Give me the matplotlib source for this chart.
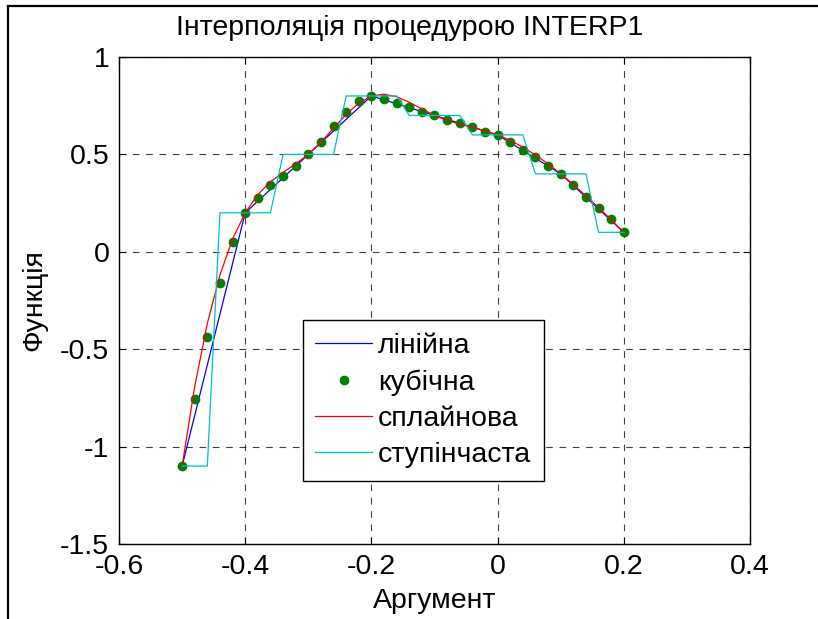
import matplotlib
matplotlib.use('Agg')
import matplotlib.pyplot as plt
from matplotlib.lines import Line2D

plt.rcParams['font.family'] = ['Liberation Sans', 'DejaVu Sans']

# knots of the source data
x_knots = [-0.5, -0.4, -0.3, -0.2, -0.1, 0.0, 0.1, 0.2]
y_linear = [-1.1, 0.2, 0.5, 0.8, 0.7, 0.6, 0.4, 0.1]

# fine argument grid
x_fine = [-0.50, -0.48, -0.46, -0.44, -0.42, -0.40, -0.38, -0.36, -0.34,
          -0.32, -0.30, -0.28, -0.26, -0.24, -0.22, -0.20, -0.18, -0.16,
          -0.14, -0.12, -0.10, -0.08, -0.06, -0.04, -0.02, 0.00, 0.02,
          0.04, 0.06, 0.08, 0.10, 0.12, 0.14, 0.16, 0.18, 0.20]

# values
y_cubic = [-1.10, -0.757, -0.436, -0.159, 0.052, 0.200, 0.276, 0.343, 0.389,
           0.440, 0.500, 0.565, 0.646, 0.720, 0.775, 0.800, 0.784, 0.764,
           0.742, 0.718, 0.700, 0.675, 0.660, 0.639, 0.617, 0.600, 0.562,
           0.524, 0.485, 0.440, 0.400, 0.344, 0.283, 0.225, 0.167, 0.100]

y_spline = [-1.10, -0.691, -0.368, -0.119, 0.066, 0.200, 0.294, 0.359, 0.408,
            0.451, 0.500, 0.563, 0.635, 0.705, 0.763, 0.800, 0.809, 0.796,
            0.768, 0.733, 0.700, 0.675, 0.655, 0.639, 0.621, 0.600, 0.572,
            0.537, 0.497, 0.451, 0.400, 0.345, 0.287, 0.227, 0.164, 0.100]

y_nearest = [-1.1, -1.1, -1.1, 0.2, 0.2, 0.2, 0.2, 0.2, 0.5,
             0.5, 0.5, 0.5, 0.5, 0.8, 0.8, 0.8, 0.8, 0.8,
             0.7, 0.7, 0.7, 0.7, 0.7, 0.6, 0.6, 0.6, 0.6,
             0.6, 0.4, 0.4, 0.4, 0.4, 0.4, 0.1, 0.1, 0.1]

labels = ['лінійна', 'кубічна', 'сплайнова', 'ступінчаста']
x_ticks = [-0.6, -0.4, -0.2, 0, 0.2, 0.4]
x_ticklabels = ['-0.6', '-0.4', '-0.2', '0', '0.2', '0.4']
y_ticks = [-1.5, -1, -0.5, 0, 0.5, 1]
y_ticklabels = ['-1.5', '-1', '-0.5', '0', '0.5', '1']

W, H = 818, 619
fig = plt.figure(figsize=(W / 100, H / 100), dpi=100)
ax = fig.add_axes([119 / W, 1 - 544 / H, (750 - 119) / W, (544 - 57) / H])

fs = 20.5
ax.plot(x_knots, y_linear, color='#0000FF', lw=0.9, label=labels[0])
ax.plot(x_fine, y_cubic, linestyle='none', marker='o', markersize=6,
        color='#008000', label=labels[1])
ax.plot(x_fine, y_spline, color='#FF0000', lw=0.9, label=labels[2])
ax.plot(x_fine, y_nearest, color='#00BFBF', lw=0.9, label=labels[3])

ax.set_xlim(-0.6, 0.4)
ax.set_ylim(-1.5, 1)
ax.set_xticks(x_ticks)
ax.set_xticklabels(x_ticklabels)
ax.set_yticks(y_ticks)
ax.set_yticklabels(y_ticklabels)
ax.tick_params(direction='in', length=5, width=0.8, top=True, right=True,
               labelsize=fs, colors='black')
ax.tick_params(axis='y', pad=7)
ax.tick_params(axis='x', pad=7)
ax.grid(True, color='black', linestyle=(0, (6, 6)), linewidth=0.8, alpha=0.75)
for s in ax.spines.values():
    s.set_linewidth(1.0)
    s.set_color('black')

ax.set_xlabel('Аргумент', fontsize=fs, labelpad=6)
ax.set_ylabel('Функція', fontsize=fs, labelpad=9)
fig.text(410 / W, 1 - 28 / H, 'Інтерполяція процедурою INTERP1', fontsize=fs,
         ha='center', va='center')

leg = ax.legend(loc='lower left', bbox_to_anchor=(0.291, 0.129),
                borderaxespad=0, fontsize=fs, numpoints=1, handlelength=2.0,
                handletextpad=0.2, borderpad=0.45, labelspacing=0.36,
                fancybox=False, framealpha=1, edgecolor='black')
leg.get_frame().set_linewidth(1.0)

# figure frame (left and top edges visible)
fig.add_artist(Line2D([8 / W, 8 / W], [0, 1 - 6 / H], color='black', lw=1.6,
                      transform=fig.transFigure))
fig.add_artist(Line2D([8 / W, 1], [1 - 6 / H, 1 - 6 / H], color='black', lw=1.6,
                      transform=fig.transFigure))

fig.savefig('out.png', dpi=100)
